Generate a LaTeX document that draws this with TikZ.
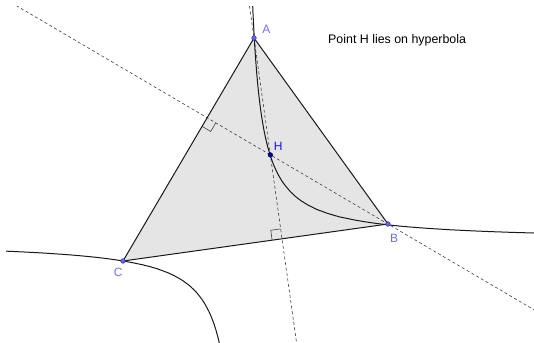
\documentclass[tikz,border=0pt]{standalone}
\usepackage{fontspec}
\setmainfont{Liberation Sans}
\usetikzlibrary{calc,positioning}

\definecolor{ptblue}{RGB}{100,100,255}
\definecolor{ptedge}{RGB}{50,50,150}
\definecolor{lblblue}{RGB}{112,112,232}
\definecolor{hblue}{RGB}{0,0,140}
\definecolor{hlabel}{RGB}{20,20,235}

\begin{document}
\begin{tikzpicture}[x=1pt, y=-1pt,
    pt/.style={circle, draw=ptedge, fill=ptblue, line width=0.5pt, inner sep=0pt, minimum size=4.6pt},
    hpt/.style={pt, draw=hblue, fill=hblue},
    ptlabel/.style={text=lblblue, inner sep=0pt, font=\fontsize{12}{14}\selectfont},
    altitude/.style={dash pattern=on 3pt off 2.5pt, line width=0.6pt, black!75},
    rightmark/.style={line width=0.6pt, black!75},
    conic/.style={line width=1pt, black!90},
    side/.style={line width=1pt, black!90}]
  \useasboundingbox (0,0) rectangle (534,342);
  \coordinate (a) at (254,38);
  \coordinate (b) at (388,224);
  \coordinate (c) at (123,261);
  \coordinate (fa) at ($(b)!(a)!(c)$);
  \coordinate (fb) at ($(a)!(b)!(c)$);
  \coordinate (h) at (intersection of a--fa and b--fb);

  \fill[black!10] (a) -- (b) -- (c) -- cycle;

  % altitudes and the hyperbola, cut at the window
  \begin{scope}
    \clip (6,7) rectangle (534,342);
    \draw[altitude] ($(a)!-1!(fa)$) -- ($(a)!2!(fa)$);
    \draw[altitude] ($(b)!3!(fb)$) -- ($(b)!-1!(fb)$);
    \draw[conic] plot[domain=2.2:5.75, samples=160, smooth, variable=\s]
      ({242.6+exp(\s)}, {241.15-2373.9*exp(-\s)});
    \draw[conic] plot[domain=3.0:5.55, samples=120, smooth, variable=\s]
      ({242.6-exp(\s)}, {241.15+2373.9*exp(-\s)});
  \end{scope}

  % right angle marks
  \coordinate (mb1) at ($(fb)!10pt!(c)$);
  \coordinate (mb2) at ($(fb)!10pt!(b)$);
  \coordinate (ma1) at ($(fa)!10pt!(c)$);
  \coordinate (ma2) at ($(fa)!10pt!(a)$);
  \draw[rightmark] (mb1) -- ($(mb1)+(mb2)-(fb)$) -- (mb2);
  \draw[rightmark] (ma1) -- ($(ma1)+(ma2)-(fa)$) -- (ma2);

  \draw[side] (a) -- (b) -- (c) -- cycle;

  \node[pt] (A) at (a) {};
  \node[pt] (B) at (b) {};
  \node[pt] (C) at (c) {};
  \node[hpt] (H) at (h) {};

  \node[ptlabel] (lA) [above right=2.6pt and 6.4pt of A] {A};
  \node[ptlabel] (lB) [below right=8pt and 0pt of B] {B};
  \node[ptlabel] (lC) [below left=5pt and -1.5pt of C] {C};
  \node[ptlabel, text=hlabel] (lH) [above right=2pt and 1.5pt of H] {H};

  \node[anchor=base west, inner sep=0pt, font=\fontsize{12.4}{15}\selectfont] (note) at (328,44)
    {Point H lies on hyperbola};
\end{tikzpicture}
\end{document}
